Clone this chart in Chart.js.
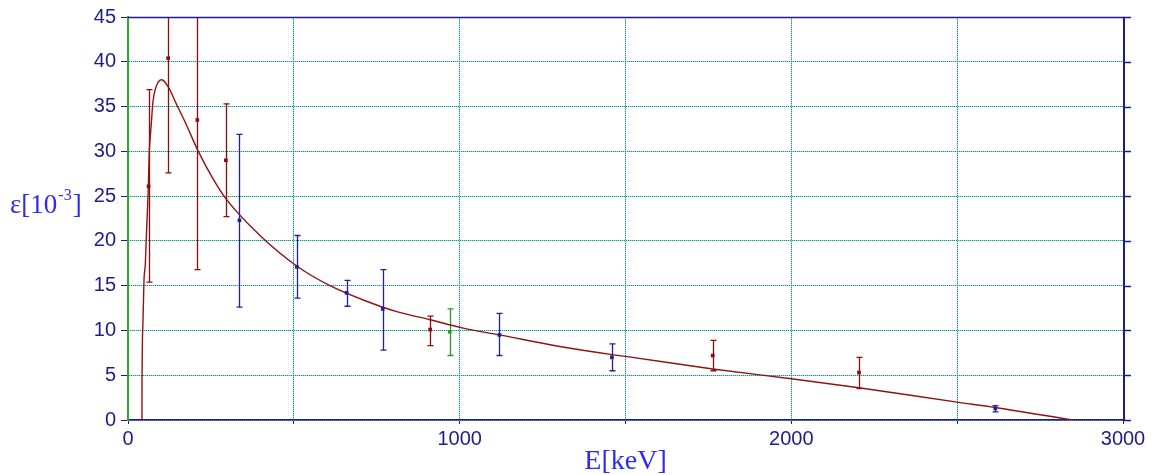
<!DOCTYPE html>
<html>
<head>
<meta charset="utf-8">
<script src="https://cdn.jsdelivr.net/npm/chart.js@4/dist/chart.umd.min.js"></script>
<style>
html, body { margin: 0; padding: 0; background: #fff; }
</style>
</head>
<body>
<canvas id="myChart" width="1155" height="475"></canvas>
<script>
'use strict'

// measured points: energy (keV), efficiency (x 10^-3), error limits, source group
var pointE    = [62, 121, 209, 295, 336, 509, 659, 768, 911, 970, 1120, 1459, 1763, 2204, 2615];
var pointEff  = [26.1, 40.4, 33.5, 29.0, 22.3, 17.1, 14.2, 12.4, 10.1, 9.85, 9.5, 7.0, 7.2, 5.3, 1.3];
var errLow    = [15.4, 27.6, 16.8, 22.7, 12.6, 13.6, 12.7, 7.8, 8.3, 7.2, 7.2, 5.5, 5.5, 3.5, 0.9];
var errHigh   = [36.9, 50, 50, 35.3, 31.9, 20.6, 15.6, 16.8, 11.6, 12.4, 11.9, 8.5, 8.9, 7.0, 1.6];
var pointSrc  = ['r', 'r', 'r', 'r', 'b', 'b', 'b', 'b', 'r', 'g', 'b', 'b', 'r', 'r', 'b'];

// fitted efficiency curve
var fitE   = [42, 42.3, 45.2, 48.2, 52.2, 55.2, 58.2, 61.2, 64.2, 68.4, 71.4, 74.4, 78.4, 86.5, 96.5, 101.6,
              121.5, 146.8, 171.8, 212, 257, 297.5, 398, 508.6,
              609, 709.4, 810, 910.5, 1011, 1120, 1302, 1459, 1500, 1763, 2000, 2204, 2500, 2615, 2848];
var fitEff = [0, 3.9, 11.1, 15.6, 17.4, 20.4, 23, 25.9, 30, 32.2, 33.7, 35.2, 36.3, 37.4, 37.96, 38.0,
              37.2, 35.2, 33.3, 30.0, 26.9, 24.6, 20.6, 17.2,
              15.0, 13.4, 12.1, 11.2, 10.26, 9.5, 8.2, 7.3, 7.1, 5.7, 4.6, 3.6, 2.0, 1.4, 0];

var yTicks = [0, 5, 10, 15, 20, 25, 30, 35, 40, 45];
var xLabels = [0, 1000, 2000, 3000];

var srcColors = { r: '#8e0c0c', b: '#20209c', g: '#2a9a2a' };
var navy = '#1c1c8a';

var ctx = document.getElementById('myChart');

// dotted teal grid: dark and light pixels alternating
function gridPattern() {
  var cv = document.createElement('canvas');
  cv.width = 2; cv.height = 2;
  var g = cv.getContext('2d');
  g.fillStyle = '#aadbdb';
  g.fillRect(0, 0, 2, 2);
  g.fillStyle = '#0e9292';
  g.fillRect(0, 0, 1, 1);
  g.fillRect(1, 1, 1, 1);
  return ctx.getContext('2d').createPattern(cv, 'repeat');
}
var teal = gridPattern();

function pairs(xs, ys) {
  return xs.map(function(x, i) { return { x: x, y: ys[i] }; });
}

var extras = {
  id: 'extras',
  beforeDatasetsDraw: function(chart) {
    var c = chart.ctx, a = chart.chartArea;
    var xs = chart.scales.x, ys = chart.scales.y;
    c.save();
    c.beginPath();
    c.rect(a.left, a.top, a.right - a.left, a.bottom - a.top);
    c.clip();
    c.lineWidth = 1.3;
    pointE.forEach(function(e, i) {
      var px = Math.round(xs.getPixelForValue(e)) + 0.5;
      var lo = ys.getPixelForValue(errLow[i]);
      var hi = ys.getPixelForValue(errHigh[i]);
      c.strokeStyle = srcColors[pointSrc[i]];
      c.beginPath();
      c.moveTo(px, lo); c.lineTo(px, hi);
      c.moveTo(px - 3, lo); c.lineTo(px + 3, lo);
      c.moveTo(px - 3, hi); c.lineTo(px + 3, hi);
      c.stroke();
    });
    c.restore();
  },
  afterDraw: function(chart) {
    var c = chart.ctx, a = chart.chartArea;
    var ys = chart.scales.y;
    c.save();
    // top and right frame
    c.strokeStyle = navy;
    c.lineWidth = 1.5;
    c.beginPath();
    c.moveTo(a.left, a.top + 0.5); c.lineTo(a.right + 1, a.top + 0.5);
    c.stroke();
    c.lineWidth = 2;
    c.beginPath();
    c.moveTo(a.right + 1, a.top); c.lineTo(a.right + 1, a.bottom);
    c.stroke();
    c.lineWidth = 1.5;
    yTicks.forEach(function(v) {
      var py = Math.round(ys.getPixelForValue(v)) + 0.5;
      c.beginPath();
      c.moveTo(a.right, py); c.lineTo(a.right + 8, py);
      c.stroke();
    });
    // axis titles
    c.fillStyle = '#2b2bf5';
    c.textBaseline = 'alphabetic';
    c.textAlign = 'left';
    var big = '27px "Liberation Serif", "Times New Roman", serif';
    var small = '16px "Liberation Serif", "Times New Roman", serif';
    var x0 = 10, base = 213;
    c.font = big;
    c.fillText('ε[10', x0, base);
    x0 += c.measureText('ε[10').width + 1;
    c.font = small;
    c.fillText('-3', x0, base - 13);
    x0 += c.measureText('-3').width + 1;
    c.font = big;
    c.fillText(']', x0, base);
    c.font = '28px "Liberation Serif", "Times New Roman", serif';
    c.textAlign = 'center';
    c.fillText('E[keV]', (a.left + a.right) / 2, 469);
    c.restore();
  }
};

var chart = new Chart(ctx, {
  type: 'scatter',
  data: {
    datasets: [{
      label: 'fit',
      type: 'line',
      data: pairs(fitE, fitEff),
      borderColor: '#8e1414',
      borderWidth: 1.4,
      pointRadius: 0,
      cubicInterpolationMode: 'monotone',
      fill: false,
      order: 2
    },
    {
      label: 'measured',
      data: pairs(pointE, pointEff),
      pointStyle: 'rect',
      pointRadius: 2.6,
      borderWidth: 0,
      backgroundColor: pointSrc.map(function(s) { return srcColors[s]; }),
      order: 1
    }]
  },
  options: {
    responsive: false,
    animation: false,
    layout: { padding: { left: 0, right: 32, top: 15, bottom: 0 } },
    plugins: {
      legend: { display: false },
      tooltip: { enabled: false }
    },
    scales: {
      x: {
        type: 'linear',
        min: 0,
        max: 3000,
        afterFit: function(s) { s.height = 55; },
        ticks: {
          stepSize: 500,
          autoSkip: false,
          maxRotation: 0,
          padding: 3,
          color: navy,
          font: { family: '"Liberation Sans", Arial, sans-serif', size: 20 },
          callback: function(v) { return xLabels.indexOf(v) >= 0 ? String(v) : ''; }
        },
        grid: { color: teal, tickColor: navy, tickLength: 4, lineWidth: 1 },
        border: { color: navy, width: 1.5 }
      },
      y: {
        min: 0,
        max: 45,
        afterFit: function(s) { s.width = 128; },
        afterBuildTicks: function(s) { s.ticks = yTicks.map(function(v) { return { value: v }; }); },
        ticks: {
          padding: 5,
          color: navy,
          font: { family: '"Liberation Sans", Arial, sans-serif', size: 20 }
        },
        grid: { color: teal, tickColor: navy, tickLength: 7, lineWidth: 1 },
        border: { color: '#2ea82e', width: 2 }
      }
    }
  },
  plugins: [extras]
});
</script>
</body>
</html>
